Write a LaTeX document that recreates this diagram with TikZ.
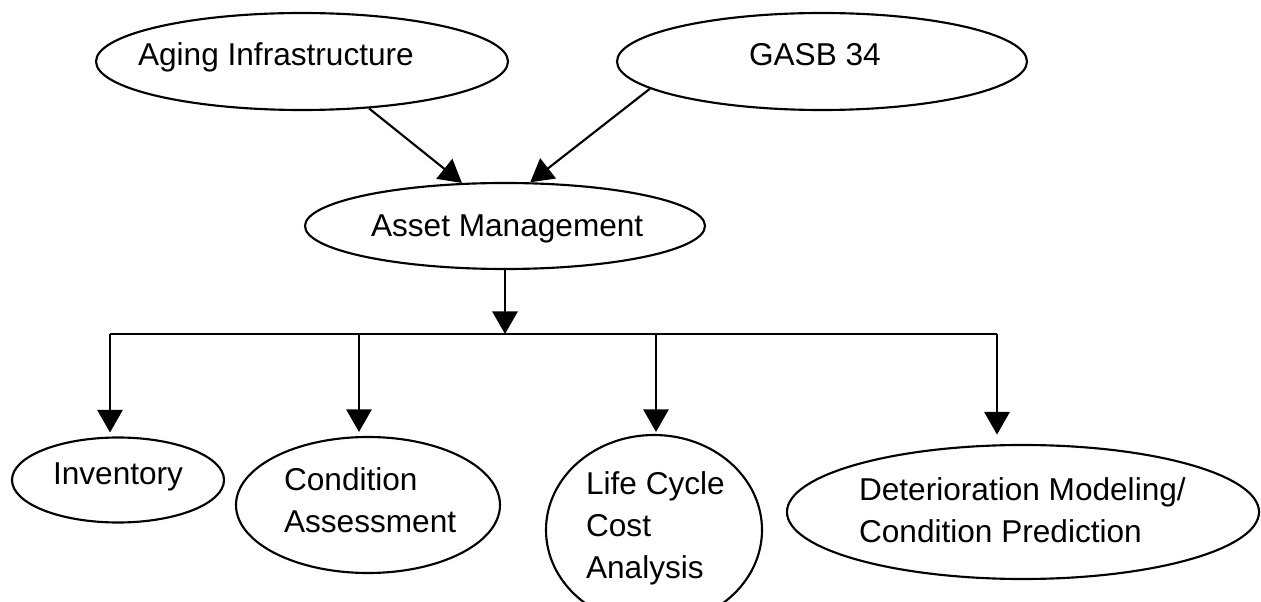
\documentclass[tikz,border=0pt]{standalone}
\usepackage{fontspec}
\setmainfont{Liberation Sans}
\usetikzlibrary{shapes.geometric,arrows.meta}
\begin{document}
\begin{tikzpicture}[x=0.75pt,y=-0.75pt,
  line width=1.6pt,
  ell/.style 2 args={ellipse, draw, inner sep=0pt, minimum width=#1*0.75pt, minimum height=#2*0.75pt},
  lbl/.style={anchor=north west, inner sep=0pt, align=left, font=\fontsize{23.7pt}{31.5pt}\selectfont},
  arr/.style={-{Triangle[length=17pt,width=19pt]}}]
\useasboundingbox (0,0) rectangle (1261,602);
% ellipses
\node[ell={412}{97}] (aging) at (302,61.5) {};
\node[ell={410}{97}] (gasb) at (822,61.5) {};
\node[ell={400}{86}] (asset) at (505,226) {};
\node[ell={212}{85}] (inv) at (118,480) {};
\node[ell={264}{136}] (cond) at (368,505) {};
\node[ell={216}{190}] (lcc) at (654,530) {};
\node[ell={472}{134}] (det) at (1023,512) {};
% labels
\node[lbl] (tAging) at (137,42) {Aging Infrastructure};
\node[lbl] (tGasb) at (748,42) {GASB 34};
\node[lbl] (tAsset) at (370,214) {Asset Management};
\node[lbl] (tInv) at (52,462) {Inventory};
\node[lbl] (tCond) at (283,467) {Condition\\Assessment};
\node[lbl] (tLcc) at (585,471) {Life Cycle\\Cost\\Analysis};
\node[lbl] (tDet) at (858,477) {Deterioration Modeling/\\Condition Prediction};
% connectors
\draw[arr] (aging.-35) -- (asset.135);
\draw[arr] (gasb.-171) -- (asset.60);
\coordinate (hub) at (505,334);
\coordinate (b1) at (110,334);
\coordinate (b2) at (359,334);
\coordinate (b3) at (656,334);
\coordinate (b4) at (997,334);
\draw[arr] (asset.south) -- (hub);
\draw (b1) -- (b4);
\draw[arr,shorten >=3pt] (b1) -- (b1 |- inv.north);
\draw[arr,shorten >=3pt] (b2) -- (b2 |- cond.north);
\draw[arr,shorten >=1.5pt] (b3) -- (b3 |- lcc.north);
\draw[arr,shorten >=7pt] (b4) -- (b4 |- det.north);
\end{tikzpicture}
\end{document}
